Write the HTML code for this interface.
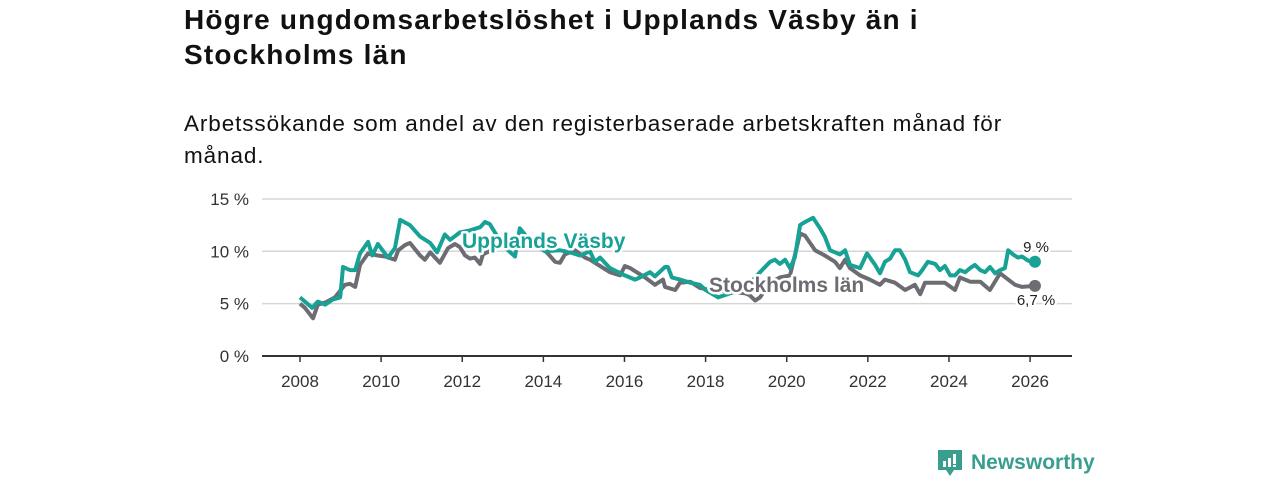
<!DOCTYPE html>
<html><head><meta charset="utf-8"><style>
body{margin:0;width:1280px;height:480px;background:#fff;overflow:hidden;font-family:"Liberation Sans","DejaVu Sans",sans-serif;}
h1{position:absolute;left:184px;top:2px;margin:0;font-size:28px;line-height:35px;font-weight:bold;color:#111;width:950px;letter-spacing:1.2px;white-space:nowrap}
p.sub{position:absolute;left:184px;top:108px;margin:0;font-size:22.5px;line-height:32px;color:#111;width:950px;letter-spacing:0.9px;white-space:nowrap}
svg{position:absolute;left:0;top:0}
</style></head><body>
<h1>Högre ungdomsarbetslöshet i Upplands Väsby än i<br>Stockholms län</h1>
<p class="sub">Arbetssökande som andel av den registerbaserade arbetskraften månad för<br>månad.</p>
<svg id="chart" width="1280" height="480"></svg>
<script>
const yTicks=[0,5,10,15];
const xTicks=[2008,2010,2012,2014,2016,2018,2020,2022,2024,2026];
const vasbyYears=[2008.00,2008.15,2008.30,2008.44,2008.62,2008.81,2008.99,2009.06,2009.23,2009.36,2009.48,2009.68,2009.78,2009.92,2010.17,2010.34,2010.47,2010.71,2010.96,2011.21,2011.38,2011.57,2011.70,2011.94,2012.19,2012.44,2012.56,2012.68,2012.93,2013.10,2013.30,2013.42,2013.67,2014.04,2014.41,2014.66,2014.90,2015.15,2015.27,2015.40,2015.64,2016.01,2016.26,2016.38,2016.63,2016.75,2017.00,2017.07,2017.17,2017.37,2017.62,2017.86,2018.00,2018.31,2018.61,2018.97,2019.34,2019.59,2019.71,2019.83,2019.96,2020.08,2020.20,2020.33,2020.45,2020.65,2020.82,2020.94,2021.07,2021.31,2021.44,2021.56,2021.81,2021.98,2022.18,2022.30,2022.42,2022.55,2022.67,2022.79,2022.92,2023.04,2023.24,2023.34,2023.48,2023.66,2023.78,2023.90,2024.03,2024.15,2024.27,2024.40,2024.52,2024.64,2024.77,2024.89,2025.01,2025.14,2025.26,2025.38,2025.46,2025.58,2025.70,2025.80,2025.95,2026.12];
const vasbyValues=[5.6,5.1,4.6,5.2,4.9,5.4,5.6,8.5,8.2,8.2,9.8,10.9,9.6,10.7,9.4,10.3,13.0,12.5,11.4,10.8,9.9,11.6,11.1,11.8,12.0,12.3,12.8,12.6,11.0,10.2,9.5,12.2,11.0,10.0,10.1,9.9,9.6,10.0,9.0,9.4,8.4,7.7,7.3,7.5,8.0,7.6,8.5,8.5,7.5,7.3,7.0,6.8,6.3,5.6,6.0,6.4,8.0,9.0,9.2,8.8,9.2,8.4,9.4,12.5,12.8,13.2,12.2,11.4,10.1,9.7,10.1,8.7,8.4,9.8,8.7,7.9,9.0,9.3,10.1,10.1,9.2,8.0,7.7,8.2,9.0,8.8,8.2,8.6,7.7,7.7,8.2,8.0,8.4,8.7,8.2,8.0,8.5,7.9,8.2,8.4,10.1,9.7,9.4,9.5,9.1,9.0];
const sthlmYears=[2008.00,2008.12,2008.32,2008.44,2008.62,2008.86,2009.11,2009.23,2009.36,2009.48,2009.68,2009.92,2010.10,2010.34,2010.42,2010.59,2010.71,2010.96,2011.08,2011.21,2011.33,2011.45,2011.65,2011.82,2011.94,2012.07,2012.19,2012.31,2012.44,2012.51,2012.93,2013.42,2013.79,2014.04,2014.29,2014.41,2014.53,2014.78,2015.03,2015.15,2015.40,2015.64,2015.89,2016.01,2016.14,2016.26,2016.51,2016.75,2016.95,2017.00,2017.25,2017.37,2017.62,2017.86,2018.11,2018.48,2018.97,2019.09,2019.22,2019.34,2019.59,2019.83,2020.08,2020.33,2020.45,2020.70,2020.94,2021.19,2021.31,2021.44,2021.56,2021.81,2022.05,2022.30,2022.42,2022.67,2022.92,2023.16,2023.29,2023.41,2023.66,2023.90,2024.15,2024.27,2024.52,2024.77,2025.01,2025.26,2025.46,2025.63,2025.80,2026.12];
const sthlmValues=[5.0,4.6,3.6,4.9,5.1,5.6,6.8,6.9,6.6,8.7,9.8,9.6,9.5,9.2,10.1,10.6,10.8,9.6,9.2,9.9,9.4,8.9,10.3,10.7,10.4,9.6,9.3,9.4,8.8,9.7,10.5,10.5,10.6,10.1,9.0,8.9,9.7,10.1,9.4,9.2,8.6,8.0,7.7,8.6,8.4,8.1,7.5,6.8,7.3,6.6,6.3,7.0,7.1,6.5,6.3,6.2,6.0,5.8,5.3,5.6,7.0,7.5,7.7,11.7,11.5,10.1,9.6,9.0,8.4,9.2,8.4,7.7,7.3,6.8,7.3,7.0,6.3,6.8,5.9,7.0,7.0,7.0,6.3,7.5,7.1,7.1,6.3,7.9,7.3,6.8,6.6,6.7];
const NS="http://www.w3.org/2000/svg",svg=document.getElementById('chart');
const X=y=>300+(y-2008)*40.56, Y=v=>356-v*10.47;
function mk(t,a,p){const e=document.createElementNS(NS,t);for(const k in a)e.setAttribute(k,a[k]);(p||svg).appendChild(e);return e;}
yTicks.forEach(t=>{
 const l=mk('line',{x1:262,x2:1072,y1:Y(t),y2:Y(t),stroke:t===0?'#333':'#d6d6d6','stroke-width':t===0?2:1.5});
 
 
 const tx=mk('text',{x:249,y:Y(t)+6,'text-anchor':'end','font-size':17,fill:'#333'});tx.textContent=t+' %';
 
 
});
xTicks.forEach(t=>{
 const l=mk('line',{x1:X(t),x2:X(t),y1:356,y2:362,stroke:'#333','stroke-width':1.5});
 
 
 const tx=mk('text',{x:X(t),y:387,'text-anchor':'middle','font-size':17,fill:'#333'});tx.textContent=t;
 
 
});
function line(ys,vs,col,name){
 const d=ys.map((y,i)=>(i?'L':'M')+X(y).toFixed(1)+','+Y(vs[i]).toFixed(1)).join('');
 const p=mk('path',{d:d,fill:'none',stroke:col,'stroke-width':4,'stroke-linejoin':'round'});
 
 
 const c=mk('circle',{cx:X(ys[ys.length-1]),cy:Y(vs[vs.length-1]),r:6,fill:col});
 
 
}
line(sthlmYears,sthlmValues,'#6e6c73','stockholm-line');
line(vasbyYears,vasbyValues,'#17a295','vasby-line');
function lab(x,y,txt,col,size,w,name,anchor){
 const t=mk('text',{x:x,y:y,'font-size':size,'font-weight':w,fill:col,stroke:'#fff','stroke-width':5,'paint-order':'stroke','stroke-linejoin':'round','text-anchor':anchor||'start'});t.textContent=txt;
 
 
}
lab(462,248,'Upplands Väsby','#17a295',21,'bold','vasby-label');
lab(709,292,'Stockholms län','#6e6c73',21,'bold','stockholm-label');
lab(1036,252,'9 %','#222',15,'normal','vasby-end-value','middle');
lab(1036,305,'6,7 %','#222',15,'normal','stockholm-end-value','middle');
</script>
<svg width="160" height="40" style="left:936px;top:446px">
<path d="M2 4h24v20h-8l-4 6-4-6H2z" fill="#3a9e8f"/>
<rect x="7" y="15" width="3" height="6" fill="#fff"/><rect x="12" y="12" width="3" height="9" fill="#fff"/><rect x="17" y="8" width="3" height="10" fill="#fff"/><rect x="17" y="19" width="3" height="2" fill="#fff"/>
<text x="35" y="23" font-size="21" font-weight="bold" fill="#3a9e8f" font-family="Liberation Sans, sans-serif">Newsworthy</text>
</svg>
</body></html>
